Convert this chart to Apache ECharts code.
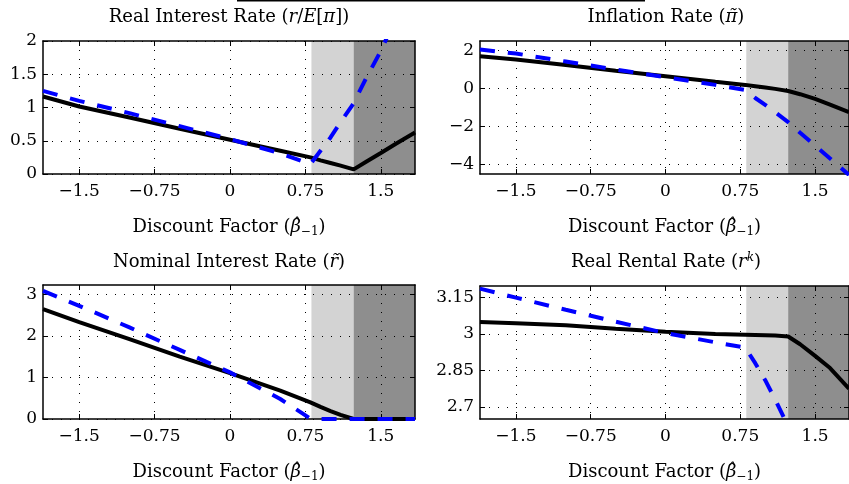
<!DOCTYPE html>
<html>
<head>
<meta charset="utf-8">
<script src="https://cdn.jsdelivr.net/npm/echarts@6/dist/echarts.min.js"></script>
<style>
  html, body { margin: 0; padding: 0; background: #fff; }
  #chart { width: 849px; height: 484px; }
</style>
</head>
<body>
<div id="chart"></div>
<script>
// discount factor grid (shared x values)
var xs = [-1.86, -1.5, -1.0, -0.5, 0, 0.5, 0.8, 0.9, 1.0, 1.1, 1.23, 1.35, 1.5, 1.65, 1.84];

// real interest rate
var realRateBlack = [1.165, 1.015, 0.85, 0.68, 0.515, 0.35, 0.25, 0.205, 0.165, 0.125, 0.07, 0.18, 0.315, 0.455, 0.625];
var realRateBlue  = [1.25, 1.10, 0.915, 0.72, 0.525, 0.31, 0.15, 0.35, 0.55, 0.78, 1.065, 1.43, 1.85, 2.35, 3.0];
// inflation
var inflBlack = [1.70, 1.53, 1.24, 0.94, 0.65, 0.36, 0.19, 0.12, 0.05, -0.02, -0.13, -0.3, -0.55, -0.85, -1.25];
var inflBlue  = [2.05, 1.84, 1.42, 1.0, 0.6, 0.19, -0.08, -0.5, -0.86, -1.25, -1.77, -2.33, -3.0, -3.68, -4.55];
// nominal interest rate
var nomBlack = [2.64, 2.33, 1.92, 1.5, 1.1, 0.68, 0.40, 0.29, 0.19, 0.10, 0, 0, 0, 0, 0];
var nomBlue  = [3.08, 2.72, 2.2, 1.66, 1.12, 0.48, 0.01, 0, 0, 0, 0, 0, 0, 0, 0];
// real rental rate
var rentBlack = [3.05, 3.045, 3.036, 3.022, 3.009, 3.0, 2.997, 2.996, 2.995, 2.994, 2.99, 2.958, 2.91, 2.86, 2.775];
var rentBlue  = [3.187, 3.15, 3.10, 3.051, 3.004, 2.966, 2.944, 2.88, 2.81, 2.73, 2.62, 2.5, 2.35, 2.2, 2.0];

// ticks
var xTicks = [-1.5, -0.75, 0, 0.75, 1.5];
var realTicks = [0, 0.5, 1, 1.5, 2];
var inflTicks = [-4, -2, 0, 2];
var nomTicks = [0, 1, 2, 3];
var rentTicks = [2.7, 2.85, 3, 3.15];

// shaded regimes
var lightZone = [0.81, 1.23];
var darkZone = [1.23, 1.84];

var FONT = "'DejaVu Serif', 'Liberation Serif', serif";
var FS = 17;
var rich = {
  n: { fontFamily: FONT, fontSize: 18, color: '#000' },
  i: { fontFamily: FONT, fontSize: 18, fontStyle: 'italic', color: '#000' },
  sub: { fontFamily: FONT, fontSize: 12, color: '#000', padding: [9, 0, 0, 0] },
  sup: { fontFamily: FONT, fontSize: 12, fontStyle: 'italic', color: '#000', padding: [0, 0, 9, 0] }
};

function zip(a, b) { return a.map(function (v, k) { return [v, b[k]]; }); }
function fmt(v) { return String(v).replace('-', '\u2212'); }

var panels = [
  { title: '{n|Real Interest Rate (}{i|r}{n|/}{i|E}{n|[}{i|π}{n|])}', left: 43, top: 41, h: 133,
    ymin: 0, ymax: 2, yTicks: realTicks, black: realRateBlack, blue: realRateBlue, ty: 17 },
  { title: '{n|Inflation Rate (}{i|π̃}{n|)}', left: 480, top: 41, h: 133,
    ymin: -4.5, ymax: 2.5, yTicks: inflTicks, black: inflBlack, blue: inflBlue, ty: 17 },
  { title: '{n|Nominal Interest Rate (}{i|r̃}{n|)}', left: 43, top: 285, h: 134,
    ymin: 0, ymax: 3.22, yTicks: nomTicks, black: nomBlack, blue: nomBlue, ty: 262 },
  { title: '{n|Real Rental Rate (}{i|r}{sup|k}{n|)}', left: 480, top: 286, h: 134,
    ymin: 2.65, ymax: 3.198, yTicks: rentTicks, black: rentBlack, blue: rentBlue, ty: 262 }
];

var grid = [], xAxis = [], yAxis = [], series = [], graphic = [];
var dots = { color: '#000', width: 1, type: [1, 8] };
var axLine = { show: true, onZero: false, lineStyle: { color: '#000', width: 1.5 } };

panels.forEach(function (p, g) {
  grid.push({ left: p.left, top: p.top, width: 372, height: p.h });
  // bottom axis with labels
  xAxis.push({
    gridIndex: g, type: 'value', min: -1.86, max: 1.84, z: 3,
    axisLine: axLine,
    axisTick: { inside: true, length: 5, customValues: xTicks, lineStyle: { color: '#000' } },
    axisLabel: { customValues: xTicks, formatter: fmt, color: '#000', fontFamily: FONT, fontSize: FS, margin: 9 },
    splitLine: { show: false },
    name: '{n|Discount Factor (}{i|β̂}{sub|−1}{n|)}',
    nameLocation: 'middle', nameGap: 43,
    nameTextStyle: { rich: rich }
  });
  // top axis: ticks and dotted grid
  xAxis.push({
    gridIndex: g, type: 'value', position: 'top', min: -1.86, max: 1.84, z: 3,
    axisLine: axLine,
    axisTick: { inside: true, length: 5, customValues: xTicks, lineStyle: { color: '#000' } },
    axisLabel: { show: false },
    splitLine: { show: true, lineStyle: dots }
  });
  yAxis.push({
    gridIndex: g, type: 'value', min: p.ymin, max: p.ymax, z: 3,
    axisLine: axLine,
    axisTick: { inside: true, length: 5, customValues: p.yTicks, lineStyle: { color: '#000' } },
    axisLabel: { customValues: p.yTicks, formatter: fmt, color: '#000', fontFamily: FONT, fontSize: FS, margin: 6 },
    splitLine: { show: false }
  });
  yAxis.push({
    gridIndex: g, type: 'value', position: 'right', min: p.ymin, max: p.ymax, z: 3,
    axisLine: axLine,
    axisTick: { inside: true, length: 5, customValues: p.yTicks, lineStyle: { color: '#000' } },
    axisLabel: { show: false },
    splitLine: { show: true, lineStyle: dots }
  });

  var xi = g * 2, yi = g * 2;
  series.push({
    type: 'line', xAxisIndex: xi, yAxisIndex: yi, data: [], z: 1, silent: true,
    markArea: {
      silent: true,
      data: [
        [{ xAxis: lightZone[0], itemStyle: { color: '#d3d3d3' } }, { xAxis: lightZone[1] }],
        [{ xAxis: darkZone[0], itemStyle: { color: '#8e8e8e' } }, { xAxis: darkZone[1] }]
      ]
    }
  });
  series.push({
    type: 'line', xAxisIndex: xi, yAxisIndex: yi, z: 4, symbol: 'none',
    data: zip(xs, p.black),
    lineStyle: { color: '#000', width: 4 }
  });
  series.push({
    type: 'line', xAxisIndex: xi, yAxisIndex: yi, z: 5, symbol: 'none',
    data: zip(xs, p.blue),
    lineStyle: { color: '#0000ff', width: 4, type: [15, 13] }
  });

  graphic.push({
    type: 'text', x: p.left + 186, y: p.ty,
    style: { text: p.title, rich: rich, align: 'center', verticalAlign: 'middle' }
  });
});

// cut-off legend border at the very top
graphic.push({ type: 'line', shape: { x1: 237, y1: 0.75, x2: 645, y2: 0.75 }, style: { stroke: '#000', lineWidth: 1.5 } });

var chart = echarts.init(document.getElementById('chart'));
chart.setOption({
  animation: false,
  backgroundColor: '#fff',
  grid: grid,
  xAxis: xAxis,
  yAxis: yAxis,
  series: series,
  graphic: graphic
});
</script>
</body>
</html>
